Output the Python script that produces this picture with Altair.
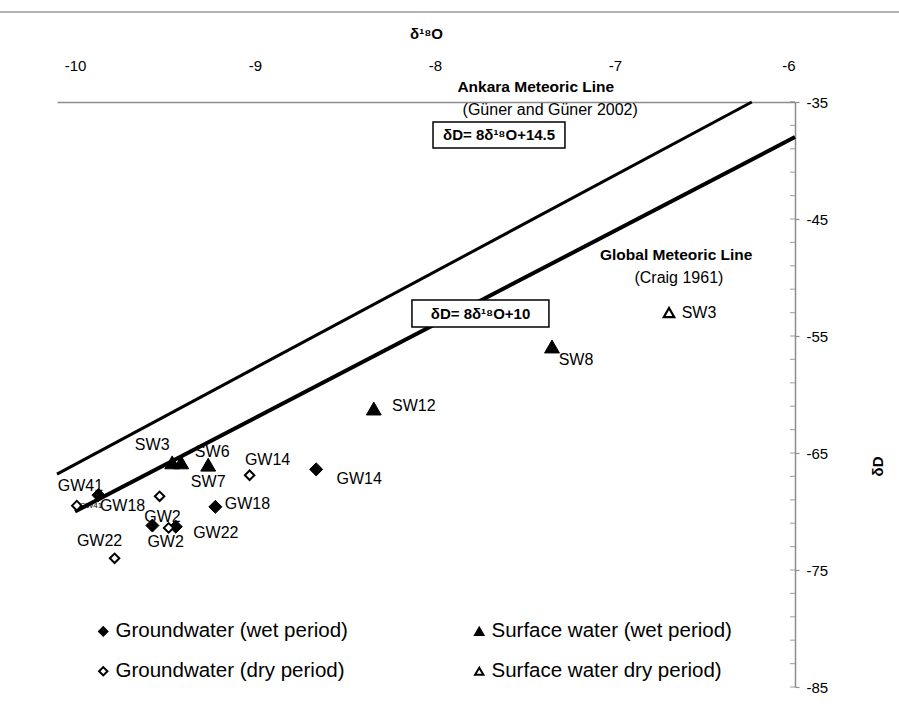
import altair as alt
import pandas as pd

# ---------------- data ----------------
gw_wet_id = ["GW41", "GW18", "GW2", "GW22", "GW14"]
gw_wet_o18 = [-9.87, -9.22, -9.57, -9.44, -8.66]
gw_wet_d = [-68.6, -69.6, -71.2, -71.3, -66.4]

gw_dry_id = ["GW41", "GW18", "GW2", "GW22", "GW14"]
gw_dry_o18 = [-9.99, -9.53, -9.48, -9.78, -9.03]
gw_dry_d = [-69.5, -68.7, -71.4, -74.0, -66.9]

sw_wet_id = ["SW3", "SW6", "SW7", "SW12", "SW8"]
sw_wet_o18 = [-9.46, -9.41, -9.26, -8.34, -7.35]
sw_wet_d = [-65.8, -65.8, -66.0, -61.2, -55.9]

sw_dry_id = ["SW3"]
sw_dry_o18 = [-6.70]
sw_dry_d = [-53.0]

# legend order (filled column by column)
groups = ["Groundwater (wet period)", "Groundwater (dry period)",
          "Surface water (wet period)", "Surface water dry period)"]

# meteoric lines
gmwl_o18 = [-10.0, -6.0]
gmwl_d = [-70.0, -38.0]
amwl_o18 = [-10.1, -6.24]
amwl_d = [-66.8, -35.0]

x_ticks = [-10, -9, -8, -7, -6]
y_major = [-85, -75, -65, -55, -45, -35]
y_minor = list(range(-85, -34, 2)) + [-35]

# ---------------- tables ----------------
rows = []
for g, ids, xs, ys in [(groups[0], gw_wet_id, gw_wet_o18, gw_wet_d),
                       (groups[1], gw_dry_id, gw_dry_o18, gw_dry_d),
                       (groups[2], sw_wet_id, sw_wet_o18, sw_wet_d),
                       (groups[3], sw_dry_id, sw_dry_o18, sw_dry_d)]:
    for i, x, y in zip(ids, xs, ys):
        rows.append({"group": g, "id": i, "key": g + "|" + i, "o18": x, "d": y})
pts = pd.DataFrame(rows)

amwl = pd.DataFrame({"o18": amwl_o18, "d": amwl_d})
gmwl = pd.DataFrame({"o18": gmwl_o18, "d": gmwl_d})
minor = pd.DataFrame({"d": y_minor})

# label offsets (pixels) per point
lab_off = {
    groups[0] + "|GW41": (-18, -9, 16),
    groups[0] + "|GW18": (32, -3, 16),
    groups[0] + "|GW2": (10, -9, 16),
    groups[0] + "|GW22": (40, 6, 16),
    groups[0] + "|GW14": (43, 10, 16),
    groups[1] + "|GW41": (14, 0, 8),
    groups[1] + "|GW18": (-37, 10, 16),
    groups[1] + "|GW2": (-3, 14, 16),
    groups[1] + "|GW22": (-15, -17, 16),
    groups[1] + "|GW14": (18, -15, 16),
    groups[2] + "|SW3": (-20, -17, 16),
    groups[2] + "|SW6": (31, -10, 16),
    groups[2] + "|SW7": (0, 17, 16),
    groups[2] + "|SW12": (40, -3, 16),
    groups[2] + "|SW8": (24, 13, 16),
    groups[3] + "|SW3": (30, 0, 16),
}

FONT = "Liberation Sans"
W, H = 738, 585
x_scale = alt.Scale(domain=[-10.1, -6], nice=False, zero=False)
y_scale = alt.Scale(domain=[-85, -35], nice=False, zero=False)

x_axis = alt.Axis(orient="top", values=x_ticks, title="δ¹⁸O",
                  labelExpr="replace(datum.label, '\u2212', '-')",
                  labelFont=FONT, labelFontSize=15, labelColor="black",
                  labelPadding=29, tickSize=0, domainColor="#8c8c8c",
                  domainWidth=1.5, grid=False,
                  titleFont=FONT, titleFontSize=15, titleFontWeight="bold",
                  titleColor="black", titlePadding=17)
y_axis = alt.Axis(orient="right", values=y_major,
                  labelExpr="replace(datum.label, '\u2212', '-')",
                  labelFont=FONT, labelFontSize=15, labelColor="black",
                  labelPadding=7, tickSize=4, tickColor="#8c8c8c", tickWidth=1.2,
                  domainColor="#8c8c8c", domainWidth=1.5, grid=False,
                  title="δD", titleFont=FONT, titleFontSize=15,
                  titleFontWeight="bold", titleColor="black",
                  titleAngle=270, titleX=90, titleY=364)


def X(f="o18"):
    return alt.X(f + ":Q", scale=x_scale, axis=x_axis, title="δ¹⁸O")


def Y(f="d"):
    return alt.Y(f + ":Q", scale=y_scale, axis=y_axis, title="δD")


base = alt.Chart(pts)

amwl_layer = alt.Chart(amwl).mark_line(color="black", strokeWidth=3).encode(x=X(), y=Y())
gmwl_layer = alt.Chart(gmwl).mark_line(color="black", strokeWidth=4).encode(x=X(), y=Y())

minor_layer = alt.Chart(minor).mark_tick(color="#8c8c8c", thickness=1.2, size=5,
                                         orient="horizontal").encode(
    y=Y(), x=alt.value(W - 2.5))

shape_scale = alt.Scale(domain=groups, range=["diamond", "diamond", "triangle-up", "triangle-up"])
fill_scale = alt.Scale(domain=groups, range=["black", "white", "black", "white"])
stroke_scale = alt.Scale(domain=groups, range=["black", "black", "black", "black"])

legend = alt.Legend(orient="none", legendX=36, legendY=519, columns=2,
                    columnPadding=121, rowPadding=19, padding=0,
                    labelFont=FONT, labelFontSize=20.5, labelColor="black",
                    labelLimit=500, labelOffset=2, symbolSize=70,
                    symbolStrokeWidth=2, symbolStrokeColor="black")

marker_size = {groups[0]: 170, groups[1]: 90, groups[2]: 220, groups[3]: 110}
marker_sw = {groups[0]: 1, groups[1]: 2, groups[2]: 1, groups[3]: 2.2}

point_layers = []
for g in groups:
    point_layers.append(
        base.transform_filter(alt.datum.group == g).mark_point(
            filled=False, opacity=1,
            size=marker_size[g], strokeWidth=marker_sw[g]
        ).encode(
            x=X(), y=Y(),
            shape=alt.Shape("group:N", scale=shape_scale, legend=legend, title=""),
            fill=alt.Fill("group:N", scale=fill_scale, legend=legend, title=""),
            stroke=alt.Stroke("group:N", scale=stroke_scale, legend=legend, title=""),
        )
    )

label_layers = []
for k, (dx, dy, fs) in lab_off.items():
    label_layers.append(
        base.transform_filter(alt.datum.key == k).mark_text(
            dx=dx, dy=dy, font=FONT, fontSize=fs, color="black"
        ).encode(x=X(), y=Y(), text="id:N")
    )

# annotations (data coordinates)
ann_text = ["Ankara Meteoric Line", "(Güner and Güner 2002)",
            "Global Meteoric Line", "(Craig 1961)",
            "δD= 8δ¹⁸O+14.5", "δD= 8δ¹⁸O+10"]
ann_o18 = [-7.44, -7.36, -6.66, -6.645, -7.644, -7.747]
ann_d = [-33.75, -35.7, -48.1, -50.0, -37.82, -53.08]
ann_weight = ["bold", "normal", "bold", "normal", "bold", "bold"]
ann_size = [15.5, 16, 15.5, 16, 15, 15]
ann = pd.DataFrame({"t": ann_text, "o18": ann_o18, "d": ann_d, "w": ann_weight, "s": ann_size})

box_x1 = [-8.011, -8.128]
box_x2 = [-7.278, -7.367]
box_y1 = [-36.71, -51.92]
box_y2 = [-38.93, -54.23]
boxes = pd.DataFrame({"x1": box_x1, "x2": box_x2, "y1": box_y1, "y2": box_y2})

box_layer = alt.Chart(boxes).mark_rect(fill="white", stroke="black", strokeWidth=1.5).encode(
    x=X("x1"), x2="x2:Q", y=Y("y1"), y2="y2:Q")

ann_layers = []
for wgt in ["bold", "normal"]:
    for sz in sorted(set(ann_size)):
        sub = ann[(ann.w == wgt) & (ann.s == sz)]
        if len(sub) == 0:
            continue
        ann_layers.append(
            alt.Chart(sub).mark_text(font=FONT, fontSize=sz, fontWeight=wgt,
                                     color="black", baseline="middle").encode(
                x=X(), y=Y(), text="t:N")
        )

border = alt.Chart(pd.DataFrame({"a": [0]})).mark_rule(color="#9a9a9a", strokeWidth=1.5).encode(
    x=alt.value(-57), x2=alt.value(842), y=alt.value(-90))

chart = alt.layer(
    amwl_layer, gmwl_layer, minor_layer, border, box_layer, *ann_layers,
    *point_layers, *label_layers
).properties(
    width=W, height=H,
    padding={"left": 57, "top": 102, "right": 104, "bottom": 21},
    autosize=alt.AutoSizeParams(type="none"),
    background="white",
).configure_view(stroke=None)

chart.save("out.html", embed_options={"renderer": "svg", "actions": False})
